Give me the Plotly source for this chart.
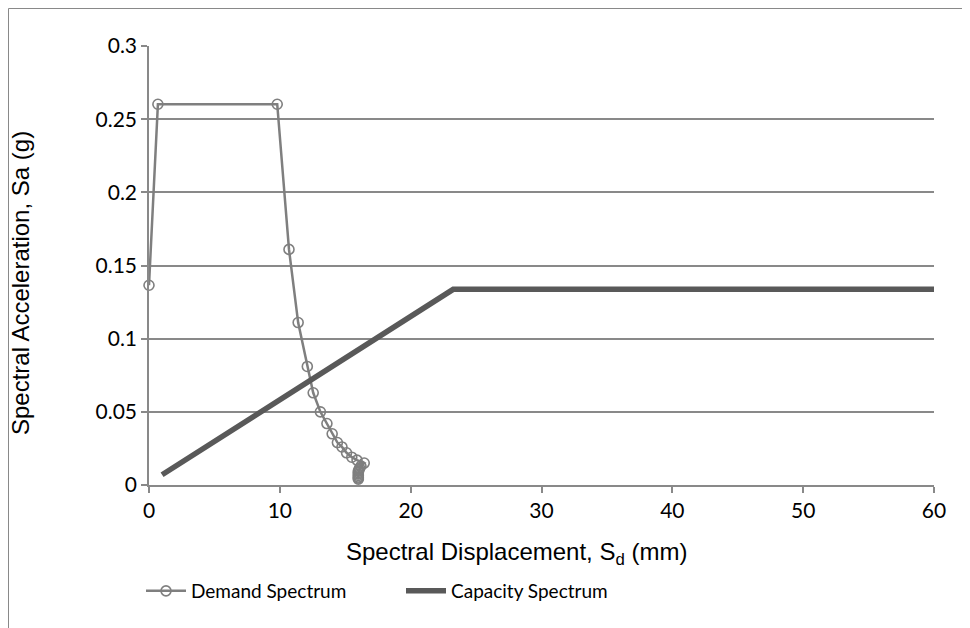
import plotly.graph_objects as go

# Demand spectrum (Sd in mm, Sa in g)
demand_sd = [0.0, 0.68, 9.8, 10.7, 11.4, 12.1, 12.55, 13.1, 13.6, 14.0, 14.4, 14.75, 15.1, 15.5, 15.9, 16.45,
             16.2, 16.1, 16.05, 16.0, 16.0, 16.0, 16.0, 16.0, 16.0, 16.0]
demand_sa = [0.1365, 0.2602, 0.2602, 0.161, 0.111, 0.081, 0.063, 0.050, 0.042, 0.035, 0.029, 0.026, 0.022, 0.019, 0.017, 0.015,
             0.013, 0.0115, 0.0105, 0.0095, 0.0085, 0.0075, 0.0065, 0.0055, 0.0048, 0.004]

# Capacity spectrum
capacity_sd = [1.0, 23.25, 60.0]
capacity_sa = [0.007, 0.1337, 0.1337]

x_ticks = [0, 10, 20, 30, 40, 50, 60]
y_ticks = [0, 0.05, 0.1, 0.15, 0.2, 0.25, 0.3]
y_tick_labels = ["0", "0.05", "0.1", "0.15", "0.2", "0.25", "0.3"]

x_title = "Spectral Displacement, S<sub>d</sub> (mm)"
y_title = "Spectral Acceleration, Sa (g)"

fig = go.Figure()
fig.add_trace(go.Scatter(
    x=demand_sd, y=demand_sa, name="Demand Spectrum", mode="lines+markers",
    line=dict(color="#7f7f7f", width=2.5),
    marker=dict(symbol="circle-open", size=10, color="#7f7f7f", line=dict(width=1.6, color="#7f7f7f")),
    cliponaxis=False,
))
fig.add_trace(go.Scatter(
    x=capacity_sd, y=capacity_sa, name="Capacity Spectrum", mode="lines",
    line=dict(color="#595959", width=5.5),
    cliponaxis=False,
))

# page is offset by 8px body margin; figure coordinates below
OX, OY = 8, 8
W, H = 970, 628
L, T = 149 - OX, 46 - OY
R = W - (934 - OX)
B = H - (485 - OY)
pw, ph = W - L - R, H - T - B

def px(xp):
    return (xp - OX - L) / pw

def py(yp):
    return (H - B - (yp - OY)) / ph

fig.add_shape(type="rect", xref="paper", yref="paper",
              x0=px(8.5), x1=px(990), y0=py(660), y1=py(8.5),
              line=dict(color="#898989", width=1), fillcolor="rgba(0,0,0,0)", layer="below")

tickfont = dict(family="Lato, Liberation Sans, sans-serif", size=21, color="#000000")
titlefont = dict(family="Liberation Sans, Arial, sans-serif", size=24, color="#000000")

fig.add_annotation(text=x_title, xref="paper", yref="paper", x=px(516), y=py(553),
                   xanchor="center", yanchor="middle", showarrow=False, font=titlefont)
fig.add_annotation(text=y_title, xref="paper", yref="paper", x=px(20), y=py(283),
                   xanchor="center", yanchor="middle", showarrow=False, font=titlefont, textangle=-90)

fig.update_layout(
    width=W, height=H,
    margin=dict(l=L, r=R, t=T, b=B),
    paper_bgcolor="white", plot_bgcolor="white",
    showlegend=True,
    legend=dict(orientation="h", x=px(141), y=py(591), xanchor="left", yanchor="middle",
                font=dict(family="Lato, Liberation Sans, sans-serif", size=19, color="#000000"),
                entrywidth=205, entrywidthmode="pixels", itemwidth=40,
                bgcolor="rgba(0,0,0,0)"),
    xaxis=dict(range=[0, 60], tickvals=x_ticks, ticktext=[str(v) for v in x_ticks],
               showgrid=False, zeroline=False, showline=True, linecolor="#898989", linewidth=1.5,
               ticks="outside", ticklen=6, tickcolor="#898989", tickwidth=1.5,
               tickfont=tickfont),
    yaxis=dict(range=[0, 0.3], tickvals=y_ticks, ticktext=y_tick_labels,
               showgrid=True, gridcolor="#898989", gridwidth=1.5,
               zeroline=False, showline=True, linecolor="#898989", linewidth=1.5,
               ticks="outside", ticklen=6, tickcolor="#898989", tickwidth=1.5,
               tickfont=tickfont),
)

fig.write_html("out.html")
